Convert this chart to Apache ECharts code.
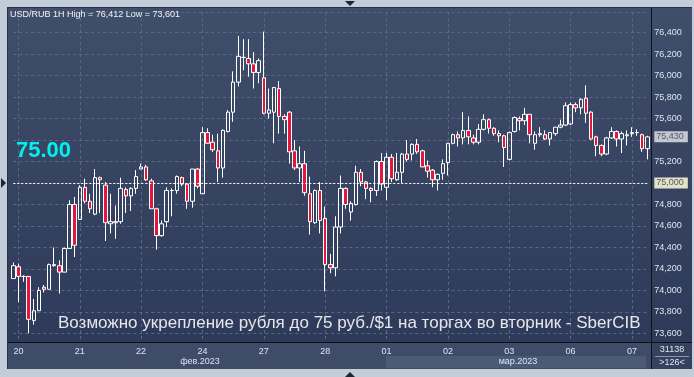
<!DOCTYPE html>
<html>
<head>
<meta charset="utf-8">
<script src="https://cdn.jsdelivr.net/npm/echarts@6/dist/echarts.min.js"></script>
<style>
  html, body { margin: 0; padding: 0; background: #c3cdd9; }
  #chart { width: 694px; height: 377px; }
</style>
</head>
<body>
<div id="chart"></div>
<script>
// USD/RUB 1H — OHLC
const opens = [74.11, 74.22, 74.13, 74.13, 73.72, 73.81, 74.03, 74.01, 74.23, 74.23, 74.17, 74.39, 74.80, 74.66, 74.96, 74.83, 74.71, 75.05, 74.98, 74.62,
  74.64, 74.64, 74.94, 74.88, 74.95, 75.13, 75.15, 75.02, 74.76, 74.51, 74.64, 74.93, 74.93, 75.05, 74.99, 74.83, 75.13, 74.90, 75.47, 75.38,
  75.30, 75.14, 75.48, 75.66, 75.94, 76.17, 76.16, 76.11, 76.03, 75.98, 75.65, 75.66, 75.88, 75.62, 75.66, 75.30, 75.14, 75.18, 74.90, 74.63,
  74.93, 74.67, 74.24, 74.21, 74.59, 74.95, 74.73, 74.80, 75.10, 75.01, 74.95, 74.93, 75.20, 74.96, 75.24, 75.03, 75.10, 75.27, 75.27, 75.36,
  75.30, 75.16, 75.12, 75.03, 75.09, 75.19, 75.37, 75.45, 75.42, 75.49, 75.42, 75.38, 75.50, 75.59, 75.51, 75.46, 75.44, 75.22, 75.48, 75.60,
  75.58, 75.64, 75.37, 75.45, 75.45, 75.41, 75.46, 75.52, 75.54, 75.55, 75.73, 75.70, 75.79, 75.66, 75.43, 75.35, 75.27, 75.42, 75.48, 75.41,
  75.45, 75.46, 75.47, 75.45, 75.32];
const closes = [74.23, 74.13, 74.13, 73.73, 73.81, 74.00, 74.01, 74.24, 74.24, 74.17, 74.39, 74.80, 74.42, 74.96, 74.83, 74.76, 75.05, 75.03, 74.63, 74.64,
  74.63, 74.95, 74.88, 74.95, 75.06, 75.15, 75.03, 74.76, 74.51, 74.62, 74.93, 74.93, 75.06, 74.99, 74.83, 75.13, 74.97, 75.47, 75.37, 75.31,
  75.14, 75.49, 75.66, 75.94, 76.18, 76.17, 76.11, 76.03, 76.14, 75.65, 75.68, 75.89, 75.62, 75.59, 75.29, 75.14, 75.18, 74.91, 74.64, 74.93,
  74.65, 74.24, 74.21, 74.59, 74.95, 74.80, 74.81, 75.10, 75.01, 74.95, 74.93, 75.20, 74.99, 75.24, 75.04, 75.10, 75.27, 75.22, 75.36, 75.29,
  75.15, 75.11, 75.03, 75.08, 75.18, 75.37, 75.45, 75.42, 75.49, 75.43, 75.38, 75.50, 75.59, 75.51, 75.46, 75.44, 75.33, 75.47, 75.61, 75.58,
  75.64, 75.45, 75.45, 75.46, 75.41, 75.47, 75.52, 75.54, 75.72, 75.73, 75.70, 75.78, 75.65, 75.41, 75.35, 75.27, 75.42, 75.48, 75.41, 75.46,
  75.44, 75.47, 75.47, 75.32, 75.43];
const lows = [74.11, 73.89, 74.08, 73.60, 73.68, 73.81, 73.98, 74.01, 74.22, 73.97, 74.17, 74.39, 74.31, 74.66, 74.81, 74.72, 74.70, 74.72, 74.46, 74.53,
  74.48, 74.62, 74.72, 74.74, 74.90, 75.13, 75.02, 74.76, 74.38, 74.50, 74.59, 74.69, 74.90, 74.97, 74.76, 74.77, 74.95, 74.90, 75.37, 75.29,
  75.01, 75.05, 75.47, 75.57, 75.90, 76.05, 75.99, 75.88, 75.93, 75.64, 75.60, 75.37, 75.46, 75.46, 75.18, 75.12, 75.01, 74.88, 74.52, 74.62,
  74.53, 73.99, 74.16, 74.13, 74.53, 74.76, 74.65, 74.79, 74.97, 74.85, 74.82, 74.88, 74.93, 74.84, 75.01, 75.02, 75.00, 75.20, 75.21, 75.27,
  75.15, 75.05, 74.96, 74.93, 75.03, 75.07, 75.36, 75.34, 75.36, 75.36, 75.36, 75.36, 75.49, 75.46, 75.44, 75.38, 75.15, 75.21, 75.47, 75.49,
  75.54, 75.37, 75.31, 75.43, 75.40, 75.35, 75.44, 75.51, 75.53, 75.54, 75.66, 75.64, 75.56, 75.40, 75.25, 75.25, 75.26, 75.41, 75.34, 75.28,
  75.35, 75.43, 75.44, 75.29, 75.22];
const highs = [74.26, 74.25, 74.14, 74.13, 73.92, 74.03, 74.05, 74.25, 74.40, 74.28, 74.40, 74.84, 74.87, 74.98, 75.04, 74.90, 75.13, 75.06, 75.01, 74.90,
  74.79, 75.05, 74.96, 74.96, 75.12, 75.18, 75.17, 75.04, 74.77, 74.65, 74.96, 74.95, 75.07, 75.06, 74.99, 75.13, 75.14, 75.52, 75.51, 75.45,
  75.46, 75.50, 75.68, 76.04, 76.37, 76.34, 76.34, 76.22, 76.16, 76.41, 75.88, 75.89, 75.95, 75.64, 75.67, 75.40, 75.34, 75.30, 75.06, 74.94,
  75.01, 74.78, 74.34, 74.69, 75.07, 74.96, 74.83, 75.16, 75.13, 75.02, 74.96, 75.21, 75.28, 75.28, 75.27, 75.28, 75.28, 75.40, 75.37, 75.41,
  75.31, 75.21, 75.13, 75.09, 75.22, 75.37, 75.46, 75.48, 75.66, 75.62, 75.45, 75.55, 75.64, 75.60, 75.52, 75.49, 75.45, 75.48, 75.62, 75.62,
  75.70, 75.64, 75.48, 75.52, 75.49, 75.47, 75.52, 75.59, 75.75, 75.75, 75.75, 75.79, 75.91, 75.67, 75.44, 75.36, 75.43, 75.52, 75.49, 75.48,
  75.49, 75.52, 75.50, 75.46, 75.44];

// trading days shown on the axis; the first candle is the tail of the previous session
const dayLabels = ['17', '20', '21', '22', '24', '27', '28', '01', '02', '03', '06', '07'];
const barsPerDay = 12;
const lastPrice = 75.43;
const targetLevel = 75.00;
const headerText = 'USD/RUB 1H High = 76,412 Low = 73,601';
const titleText = 'Возможно укрепление рубля до 75 руб./$1 на торгах во вторник - SberCIB';
const volumeText = '31138';
const barsText = '>126<';

const categories = opens.map((o, i) => {
  const d = i === 0 ? 0 : 1 + Math.floor((i - 1) / barsPerDay);
  const h = i === 0 ? 21 : 10 + (i - 1) % barsPerDay;
  return dayLabels[d] + ' ' + h + ':00';
});
const candles = opens.map((o, i) => [o, closes[i], lows[i], highs[i]]);
const isDayStart = (idx) => idx > 0 && (idx - 1) % barsPerDay === 0;
const fmt = (v) => v.toFixed(3).replace('.', ',');

const chart = echarts.init(document.getElementById('chart'));
const font = 'Liberation Sans, Arial, sans-serif';

const option = {
  animation: false,
  backgroundColor: '#c3cdd9',
  grid: { left: 13.3, right: 46.7, top: 12, bottom: 35 },
  xAxis: {
    type: 'category',
    data: categories,
    boundaryGap: false,
    axisLine: { show: false },
    axisTick: { show: false },
    axisLabel: {
      interval: (idx) => isDayStart(idx),
      formatter: (v) => v.split(' ')[0],
      color: '#dce5ef',
      fontSize: 9,
      fontFamily: font,
      margin: 5
    },
    splitLine: {
      show: true,
      interval: (idx) => isDayStart(idx),
      lineStyle: { color: '#5a6783', type: [3, 3], width: 1 }
    }
  },
  yAxis: {
    type: 'value',
    position: 'right',
    min: 73.519,
    max: 76.593,
    minInterval: 0.2,
    maxInterval: 0.2,
    scale: true,
    axisLine: { show: false },
    axisTick: { show: false },
    axisLabel: {
      showMinLabel: false,
      showMaxLabel: false,
      margin: 7,
      color: '#dce5ef',
      fontSize: 9,
      fontFamily: font,
      formatter: (v) => {
        const r = Math.round(v * 1000) / 1000;
        if (Math.abs(r - 75.4) < 1e-6 || Math.abs(r - targetLevel) < 1e-6) return '';
        return fmt(r);
      }
    },
    splitLine: { show: true, lineStyle: { color: '#5a6783', type: [3, 3], width: 1 } }
  },
  series: [{
    type: 'candlestick',
    data: candles,
    barWidth: 4,
    clip: false,
    itemStyle: {
      color: 'transparent',
      color0: '#e3173d',
      borderColor: '#ffffff',
      borderColor0: '#ffffff',
      borderWidth: 1
    },
    markLine: {
      silent: true,
      symbol: ['none', 'none'],
      data: [
        {
          yAxis: targetLevel,
          lineStyle: { color: '#ffffff', type: [2, 2], width: 1 },
          label: {
            position: 'end', distance: 7, formatter: fmt(targetLevel),
            backgroundColor: '#e4e2c4', color: '#4d5a74', fontSize: 9, fontFamily: font,
            padding: [1, 4, 1, 2]
          }
        },
        {
          yAxis: lastPrice,
          lineStyle: { color: 'rgba(0,0,0,0)', width: 1 },
          label: {
            position: 'end', distance: 7, formatter: fmt(lastPrice),
            backgroundColor: '#c4c8ce', color: '#4d5a74', fontSize: 9, fontFamily: font,
            padding: [1, 4, 1, 2]
          }
        }
      ]
    }
  }],
  graphic: [
    // panels
    { type: 'rect', z: -10, shape: { x: 8, y: 7, width: 684, height: 335 },
      style: { fill: new echarts.graphic.LinearGradient(0, 0, 0, 1, [
        { offset: 0, color: '#3f4e6b' }, { offset: 1, color: '#2d3a59' }]) } },
    { type: 'rect', z: -10, shape: { x: 8, y: 342, width: 684, height: 27 }, style: { fill: '#3e4c69' } },
    { type: 'rect', z: -9, shape: { x: 386, y: 356, width: 260, height: 12 }, style: { fill: '#4b5a77' } },
    { type: 'rect', z: -9, shape: { x: 652, y: 342, width: 40, height: 27 }, style: { fill: '#34425f' } },
    { type: 'line', z: 5, shape: { x1: 8, y1: 342.5, x2: 692, y2: 342.5 }, style: { stroke: '#111111', lineWidth: 1 } },
    { type: 'line', z: 5, shape: { x1: 651.5, y1: 7, x2: 651.5, y2: 369 }, style: { stroke: '#111111', lineWidth: 1 } },
    { type: 'line', z: 5, shape: { x1: 7.5, y1: 7, x2: 7.5, y2: 369 }, style: { stroke: '#25304a', lineWidth: 1 } },
    { type: 'line', z: 5, shape: { x1: 8, y1: 7.5, x2: 692, y2: 7.5 }, style: { stroke: '#25304a', lineWidth: 1 } },
    { type: 'line', z: 5, shape: { x1: 655, y1: 356.5, x2: 689, y2: 356.5 }, style: { stroke: '#8a96ab', lineWidth: 1 } },
    // frame markers
    { type: 'polygon', z: 5, shape: { points: [[345, 1], [355, 1], [350, 6]] }, style: { fill: '#1e2433' } },
    { type: 'polygon', z: 5, shape: { points: [[345, 377], [355, 377], [350, 372]] }, style: { fill: '#1e2433' } },
    { type: 'polygon', z: 5, shape: { points: [[1, 178], [1, 188], [6, 183]] }, style: { fill: '#1e2433' } },
    // texts
    { type: 'text', z: 20, x: 10, y: 15, style: { text: headerText, fill: '#f2f4f7', font: '9px ' + font, verticalAlign: 'middle' } },
    { type: 'text', z: 20, x: 16, y: 151, style: { text: '75.00', fill: '#00f0f0', font: 'bold 22px ' + font, verticalAlign: 'middle' } },
    { type: 'text', z: 20, x: 58, y: 323, style: { text: titleText, fill: '#e6e7ea', font: '17px ' + font, verticalAlign: 'middle' } },
    { type: 'text', z: 20, x: 200, y: 362, style: { text: 'фев.2023', fill: '#dce5ef', font: '9px ' + font, align: 'center', verticalAlign: 'middle' } },
    { type: 'text', z: 20, x: 518, y: 362, style: { text: 'мар.2023', fill: '#dce5ef', font: '9px ' + font, align: 'center', verticalAlign: 'middle' } },
    { type: 'text', z: 20, x: 672, y: 350, style: { text: volumeText, fill: '#dce5ef', font: '9px ' + font, align: 'center', verticalAlign: 'middle' } },
    { type: 'text', z: 20, x: 672, y: 362.5, style: { text: barsText, fill: '#dce5ef', font: '9px ' + font, align: 'center', verticalAlign: 'middle' } }
  ]
};
chart.setOption(option);
</script>
</body>
</html>
